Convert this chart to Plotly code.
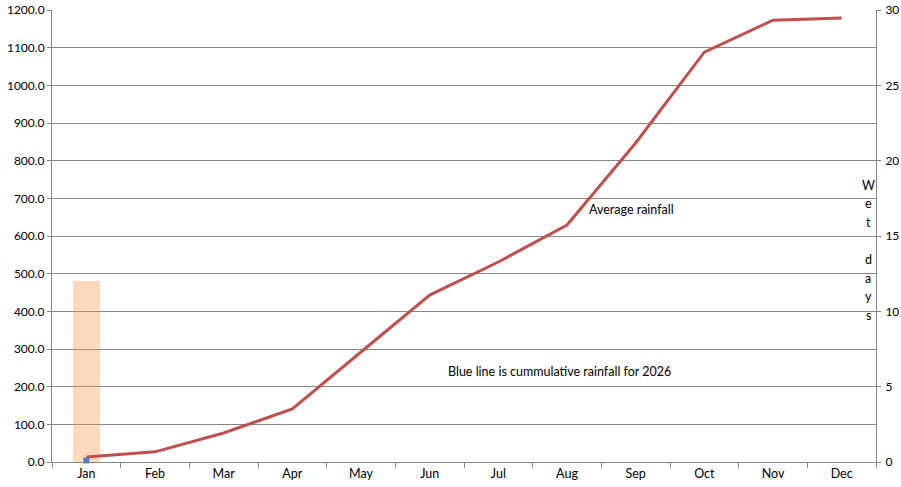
import plotly.graph_objects as go

months = ["Jan", "Feb", "Mar", "Apr", "May", "Jun", "Jul", "Aug", "Sep", "Oct", "Nov", "Dec"]
avg_cumulative_rainfall = [13, 27, 77, 141, 292, 443, 531, 629, 847, 1088, 1173, 1179]
rainfall_2026 = [4]
wet_days_2026 = [12]
right_axis_title = "Wet days"

font = "Lato, 'Open Sans', sans-serif"

W, H = 901, 487
L, T, R, B = 52, 10, 25, 25

fig = go.Figure()

fig.add_trace(go.Bar(
    x=months[:1], y=wet_days_2026, yaxis="y", width=0.39,
    marker=dict(color="rgba(247,150,70,0.36)", line=dict(width=0)),
    showlegend=False, hoverinfo="skip",
))
fig.add_trace(go.Scatter(
    x=months, y=avg_cumulative_rainfall, yaxis="y2", mode="lines",
    line=dict(color="#C0504D", width=3), showlegend=False,
))
fig.add_trace(go.Scatter(
    x=months[:1], y=rainfall_2026, yaxis="y2", mode="lines+markers",
    line=dict(color="#4F81BD", width=3), cliponaxis=False,
    marker=dict(symbol="square", size=6, color="#4F81BD"), showlegend=False,
))

# vertical, letter-by-letter axis title (Excel stacked text)
title_annotations = []
line_step = 18.6
y0 = 185
for i, ch in enumerate(right_axis_title):
    if ch == " ":
        continue
    title_annotations.append(dict(
        text=ch, x=(868 - L) / (W - L - R), y=(H - B - (y0 + i * line_step)) / (H - T - B),
        xref="paper", yref="paper", xanchor="center", yanchor="middle",
        showarrow=False, font=dict(size=12.5)))

fig.update_layout(
    width=W, height=H,
    margin=dict(l=L, r=R, t=T, b=B, autoexpand=False),
    paper_bgcolor="white", plot_bgcolor="white",
    font=dict(family=font, size=12.5, color="#000000"),
    xaxis=dict(
        type="category", categoryorder="array", categoryarray=months,
        range=[-0.5, 11.5], showgrid=False, showline=True, linecolor="#868686",
        linewidth=1, ticks="outside", tickson="boundaries", ticklen=5,
        tickcolor="#868686", tickfont=dict(size=12.5), zeroline=False,
        automargin=False,
    ),
    yaxis=dict(
        side="right", range=[0, 30], dtick=5, showgrid=False, zeroline=False,
        showline=True, linecolor="#868686", ticks="outside", ticklen=4,
        tickcolor="#868686", tickfont=dict(size=12), ticklabelstandoff=2,
        automargin=False,
    ),
    yaxis2=dict(
        side="left", overlaying="y", anchor="x", range=[0, 1200], dtick=100,
        tickformat=".1f", showgrid=True, gridcolor="#868686", gridwidth=1,
        zeroline=False, showline=True, linecolor="#868686", ticks="outside",
        ticklen=4, tickcolor="#868686", tickfont=dict(size=12),
        automargin=False,
    ),
    bargap=0,
    annotations=[
        dict(text="Average rainfall", x="Aug", y=670, xref="x", yref="y2",
             xshift=20, xanchor="left", yanchor="middle", showarrow=False,
             font=dict(size=12.5)),
        dict(text="Blue line is cummulative rainfall for 2026", x=0.616, y=240,
             xref="paper", yref="y2", xanchor="center", yanchor="middle",
             showarrow=False, font=dict(size=12.5)),
    ] + title_annotations,
)

fig.write_html(
    "out.html",
    config={"displayModeBar": False},
    post_script="document.body.style.margin='0';document.body.style.overflow='hidden';",
)
